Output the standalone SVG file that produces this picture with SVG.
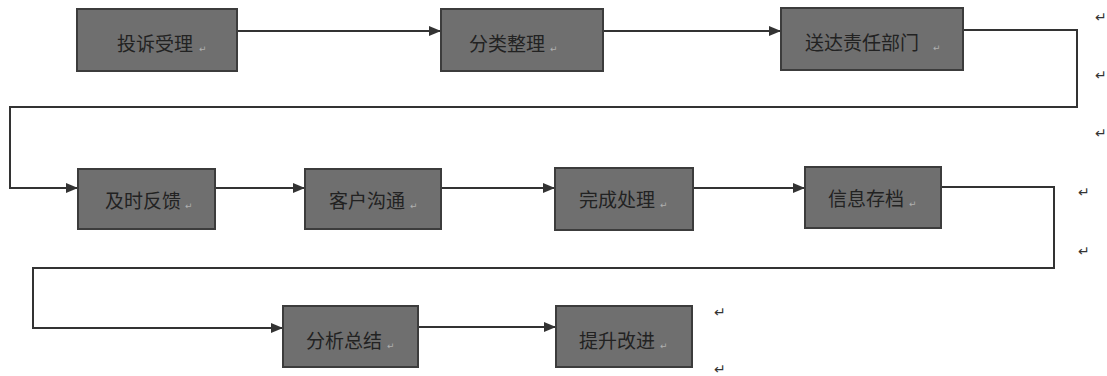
<svg xmlns="http://www.w3.org/2000/svg" width="1107" height="376" viewBox="0 0 1107 376">
<style>
.box{fill:#6f6f6f;stroke:#3c3c3c;stroke-width:2}
.lbl{font-family:"Noto Sans CJK SC","Liberation Sans",sans-serif;font-size:19px;fill:#222;text-anchor:middle}
.rm{font-family:"DejaVu Sans",sans-serif;font-size:9px;fill:#b0b0b0}
.pm{font-family:"DejaVu Sans",sans-serif;font-size:14px;fill:#333}
.ln{fill:none;stroke:#333;stroke-width:2}
</style>
<defs>
<marker id="ah" markerWidth="12" markerHeight="10" refX="11" refY="5" orient="auto" markerUnits="userSpaceOnUse">
<path d="M0,0 L12,5 L0,10 Z" fill="#333"/>
</marker>
</defs>
<rect width="1107" height="376" fill="#ffffff"/>
<g id="connectors">
<path class="ln" d="M237,31 H440" marker-end="url(#ah)"/>
<path class="ln" d="M603,31 H780" marker-end="url(#ah)"/>
<path class="ln" d="M963,30 H1077 V107 H10 V188 H77" marker-end="url(#ah)"/>
<path class="ln" d="M215,188 H304" marker-end="url(#ah)"/>
<path class="ln" d="M441,188 H554" marker-end="url(#ah)"/>
<path class="ln" d="M693,188 H804" marker-end="url(#ah)"/>
<path class="ln" d="M941,187 H1054 V268 H33 V328 H282" marker-end="url(#ah)"/>
<path class="ln" d="M418,327 H555" marker-end="url(#ah)"/>
</g>
<g id="n1"><rect class="box" x="77" y="9" width="160" height="62"/><text class="lbl" x="155" y="51">投诉受理</text><text class="rm" x="199" y="52">↵</text></g>
<g id="n2"><rect class="box" x="441" y="9" width="162" height="62"/><text class="lbl" x="507" y="51">分类整理</text><text class="rm" x="550" y="52">↵</text></g>
<g id="n3"><rect class="box" x="781" y="8" width="182" height="62"/><text class="lbl" x="862" y="50">送达责任部门</text><text class="rm" x="933" y="51">↵</text></g>
<g id="n4"><rect class="box" x="78" y="169" width="137" height="60"/><text class="lbl" x="143" y="208">及时反馈</text><text class="rm" x="185" y="209">↵</text></g>
<g id="n5"><rect class="box" x="305" y="169" width="136" height="60"/><text class="lbl" x="367" y="208">客户沟通</text><text class="rm" x="410" y="209">↵</text></g>
<g id="n6"><rect class="box" x="555" y="168" width="138" height="62"/><text class="lbl" x="617" y="207">完成处理</text><text class="rm" x="660" y="208">↵</text></g>
<g id="n7"><rect class="box" x="805" y="167" width="136" height="61"/><text class="lbl" x="866" y="206">信息存档</text><text class="rm" x="909" y="207">↵</text></g>
<g id="n8"><rect class="box" x="283" y="306" width="135" height="61"/><text class="lbl" x="344" y="348">分析总结</text><text class="rm" x="387" y="349">↵</text></g>
<g id="n9"><rect class="box" x="556" y="306" width="136" height="61"/><text class="lbl" x="617" y="348">提升改进</text><text class="rm" x="660" y="349">↵</text></g>
<g id="marks">
<text class="pm" x="1095" y="22">↵</text>
<text class="pm" x="1095" y="80">↵</text>
<text class="pm" x="1095" y="138">↵</text>
<text class="pm" x="1078" y="197">↵</text>
<text class="pm" x="1078" y="256">↵</text>
<text class="pm" x="714" y="317">↵</text>
<text class="pm" x="714" y="374">↵</text>
</g>
</svg>
